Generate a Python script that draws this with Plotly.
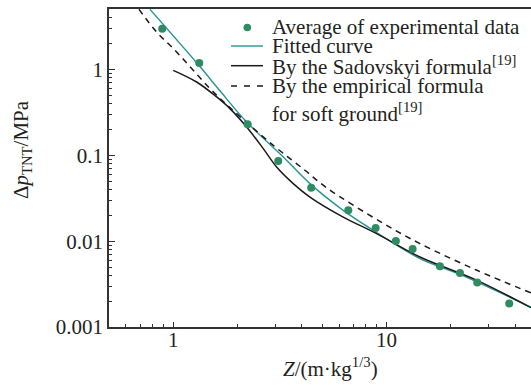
import math
import plotly.graph_objects as go

# ---- data ----
exp_z = [0.888, 1.324, 2.232, 3.105, 4.43, 6.61, 8.88, 11.05, 13.24, 17.77, 22.06, 26.58, 37.54]
exp_p = [3.0, 1.194, 0.2304, 0.0860, 0.0419, 0.0229, 0.01425, 0.01005, 0.00811, 0.0051, 0.00426, 0.00329, 0.001875]

fit_z = [0.778, 1.324, 1.655, 2.208, 3.278, 4.37, 6.26, 8.65, 14.32, 22.06, 47.4]
fit_p = [5.04, 1.107, 0.566, 0.245, 0.0958, 0.0469, 0.0229, 0.01339, 0.00627, 0.00410, 0.00170]

sad_z = [1.0, 1.287, 1.597, 1.844, 2.208, 2.641, 3.051, 3.650, 4.37, 6.26, 8.98, 14.32, 26.5, 47.4]
sad_p = [0.981, 0.717, 0.480, 0.351, 0.2143, 0.120, 0.0732, 0.0469, 0.0327, 0.0191, 0.01226, 0.00654, 0.0035, 0.00168]

emp_z = [0.691, 0.836, 1.019, 1.241, 1.513, 1.844, 2.942, 4.142, 5.234, 9.64, 14.32, 26.5, 47.4]
emp_p = [5.04, 2.744, 1.679, 0.981, 0.574, 0.3606, 0.1311, 0.0671, 0.0419, 0.01616, 0.00938, 0.00458, 0.0025]

x_ticks = [1, 10]
x_ticktext = ["1", "10"]
x_minor = [0.6, 0.7, 0.8, 0.9, 2, 3, 4, 5, 6, 7, 8, 9, 20, 30, 40]
y_ticks = [0.001, 0.01, 0.1, 1]
y_ticktext = ["0.001", "0.01", "0.1", "1"]
y_minor = [0.002, 0.003, 0.004, 0.005, 0.006, 0.007, 0.008, 0.009,
           0.02, 0.03, 0.04, 0.05, 0.06, 0.07, 0.08, 0.09,
           0.2, 0.3, 0.4, 0.5, 0.6, 0.7, 0.8, 0.9, 2, 3, 4, 5]

legend_labels = ["Average of experimental data", "Fitted curve",
                 "By the Sadovskyi formula<sup>[19]</sup>",
                 "By the empirical formula", "for soft ground<sup>[19]</sup>"]

# ---- styling ----
W, H = 531, 385
ML, MR, MT, MB = 109, 0, 9, 58
FONT = "Liberation Serif, Times New Roman, serif"
TXT = "#231f20"
AX = "#333333"
GREEN = "#2e8b62"
TEAL = "#2a9494"
BLACK = "#1a1a1a"

def px(x):
    return (x - ML) / (W - ML - MR)

def py(y):
    return (H - MB - y) / (H - MT - MB)

fig = go.Figure()
fig.add_trace(go.Scatter(x=fit_z, y=fit_p, mode="lines", line=dict(color=TEAL, width=1.4, shape="spline", smoothing=1.0), showlegend=False))
fig.add_trace(go.Scatter(x=sad_z, y=sad_p, mode="lines", line=dict(color=BLACK, width=1.5, shape="spline", smoothing=1.0), showlegend=False))
fig.add_trace(go.Scatter(x=emp_z, y=emp_p, mode="lines", line=dict(color=BLACK, width=1.5, dash="6px,5px", shape="spline", smoothing=1.0), showlegend=False))
fig.add_trace(go.Scatter(x=exp_z, y=exp_p, mode="markers", marker=dict(color=GREEN, size=8, line=dict(width=0)), showlegend=False))

xr = [math.log10(0.5), math.log10(0.5) + (W - ML - MR) / 213.4]
yr = [-3, -3 + (H - MT - MB) / 85.8]

fig.update_layout(
    width=W, height=H,
    margin=dict(l=ML, r=MR, t=MT, b=MB, pad=0),
    paper_bgcolor="white", plot_bgcolor="white",
    font=dict(family=FONT, size=21, color=TXT),
    xaxis=dict(type="log", range=xr, showgrid=False, zeroline=False,
               showline=True, linecolor=AX, linewidth=1.5, mirror=True,
               ticks="inside", ticklen=5, tickwidth=1.2, tickcolor=AX,
               tickmode="array", tickvals=x_ticks, showticklabels=False,
               minor=dict(tickmode="array", tickvals=x_minor, ticks="inside", ticklen=3, tickwidth=1.2, tickcolor=AX, showgrid=False)),
    yaxis=dict(type="log", range=yr, showgrid=False, zeroline=False,
               showline=True, linecolor=AX, linewidth=1.5, mirror=False,
               ticks="inside", ticklen=6, tickwidth=1.2, tickcolor=AX,
               tickmode="array", tickvals=y_ticks, ticktext=y_ticktext,
               minor=dict(tickmode="array", tickvals=y_minor, ticks="inside", ticklen=3, tickwidth=1.2, tickcolor=AX, showgrid=False),
               tickfont=dict(family=FONT, size=21, color=TXT)),
    showlegend=False,
)

# x tick labels placed just below the axis
for v, t in zip(x_ticks, x_ticktext):
    fig.add_annotation(text=t, xref="x", yref="paper", x=math.log10(v), y=py(340),
                       xanchor="center", yanchor="middle", showarrow=False,
                       font=dict(family=FONT, size=21, color=TXT))

# ---- custom legend (keys as shapes, labels as text) ----
key_x0, key_x1 = 231, 263
r = 3.8
fig.add_shape(type="circle", xref="paper", yref="paper",
              x0=px(247.3 - r), x1=px(247.3 + r), y0=py(27.5 + r), y1=py(27.5 - r),
              fillcolor=GREEN, line=dict(width=0))
fig.add_shape(type="line", xref="paper", yref="paper", x0=px(key_x0), x1=px(key_x1), y0=py(46), y1=py(46),
              line=dict(color=TEAL, width=1.4))
fig.add_shape(type="line", xref="paper", yref="paper", x0=px(key_x0), x1=px(key_x1), y0=py(65.7), y1=py(65.7),
              line=dict(color=BLACK, width=1.5))
fig.add_shape(type="line", xref="paper", yref="paper", x0=px(key_x0), x1=px(key_x1), y0=py(86), y1=py(86),
              line=dict(color=BLACK, width=1.5, dash="6px,7px"))

label_y = [26.5, 46, 66, 86, 112.5]
for t, yy in zip(legend_labels, label_y):
    fig.add_annotation(text=t, xref="paper", yref="paper", x=px(270), y=py(yy),
                       xanchor="left", yanchor="middle", showarrow=False,
                       font=dict(family=FONT, size=21, color=TXT))

# ---- axis titles ----
fig.add_annotation(text="<i>Z</i>/(m·kg<sup>1/3</sup>)", xref="paper", yref="paper",
                   x=px(330), y=py(367), xanchor="center", yanchor="middle", showarrow=False,
                   font=dict(family=FONT, size=21, color=TXT))
fig.add_annotation(text="Δ<i>p</i><sub>TNT</sub>/MPa", xref="paper", yref="paper",
                   x=px(22), y=py(150), xanchor="center", yanchor="middle", textangle=-90, showarrow=False,
                   font=dict(family=FONT, size=21, color=TXT))

fig.write_html("out.html")
